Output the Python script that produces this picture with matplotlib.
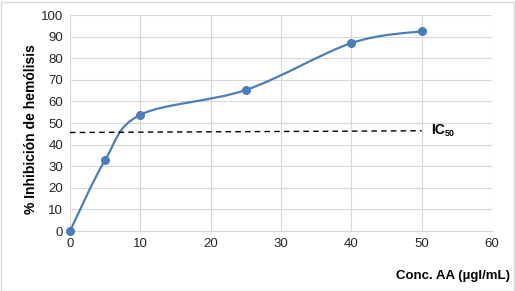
import numpy as np
import matplotlib
matplotlib.use("Agg")
import matplotlib.pyplot as plt
from matplotlib.path import Path
from matplotlib.patches import PathPatch, Rectangle

conc = [0, 5, 10, 25, 40, 50]
inhib = [0, 32.9, 53.8, 65.3, 87.0, 92.5]
ic50_x = [0, 50]
ic50_y = [45.6, 46.4]
xticks = [0, 10, 20, 30, 40, 50, 60]
yticks = [0, 10, 20, 30, 40, 50, 60, 70, 80, 90, 100]

plt.rcParams['font.family'] = ['Liberation Sans', 'DejaVu Sans']

fig = plt.figure(figsize=(5.15, 2.91), dpi=100)
ax = fig.add_axes([70/515, 60/291, 422/515, 216/291])
ax.set_xlim(0, 60)
ax.set_ylim(0, 100)
ax.set_xticks(xticks)
ax.set_yticks(yticks)
ax.grid(True, color='#d9d9d9', linewidth=0.8)
ax.set_axisbelow(True)
for s in ['top', 'right', 'left']:
    ax.spines[s].set_visible(False)
ax.spines['bottom'].set_color('#d9d9d9')
ax.tick_params(length=0, labelsize=9.5, colors='#262626', pad=5)

# Excel-style smoothed line (Catmull-Rom Bezier)
x = np.array(conc, float); y = np.array(inhib, float)
verts = [(x[0], y[0])]; codes = [Path.MOVETO]
n = len(x)
for i in range(n - 1):
    p0 = np.array([x[max(i-1, 0)], y[max(i-1, 0)]])
    p1 = np.array([x[i], y[i]])
    p2 = np.array([x[i+1], y[i+1]])
    p3 = np.array([x[min(i+2, n-1)], y[min(i+2, n-1)]])
    c1 = p1 + (p2 - p0) / 6
    c2 = p2 - (p3 - p1) / 6
    verts += [tuple(c1), tuple(c2), tuple(p2)]
    codes += [Path.CURVE4] * 3
ax.add_patch(PathPatch(Path(verts, codes), facecolor='none', edgecolor='#4a7ebb', lw=1.6, zorder=3))
ax.plot(conc, inhib, 'o', color='#4a7ebb', ms=5.5, zorder=4, clip_on=False)

ax.plot(ic50_x, ic50_y, '--', color='black', lw=1.0, dashes=(4, 3), zorder=3)
ic = ax.text(51.3, 46.6, 'IC', fontsize=10, fontweight='bold', va='center', ha='left')
ax.annotate('50', xy=(1, 0.0), xycoords=ic, xytext=(0.5, -0.5), textcoords='offset points',
            fontsize=6.5, fontweight='bold', va='bottom', ha='left')

fig.text(31/515, 1 - 129/291, '% Inhibición de hemólisis', rotation=90, fontsize=10,
         fontweight='bold', ha='center', va='center')
fig.text(510/515, 1 - 276/291, 'Conc. AA (µgl/mL)', fontsize=9.5, fontweight='bold',
         ha='right', va='center')

fig.patches.append(Rectangle((0.5/515, 0.5/291), 513/515, 289/291, transform=fig.transFigure,
                             fill=False, edgecolor='#d9d9d9', lw=1))
fig.savefig('out.png', dpi=100, facecolor='white')
